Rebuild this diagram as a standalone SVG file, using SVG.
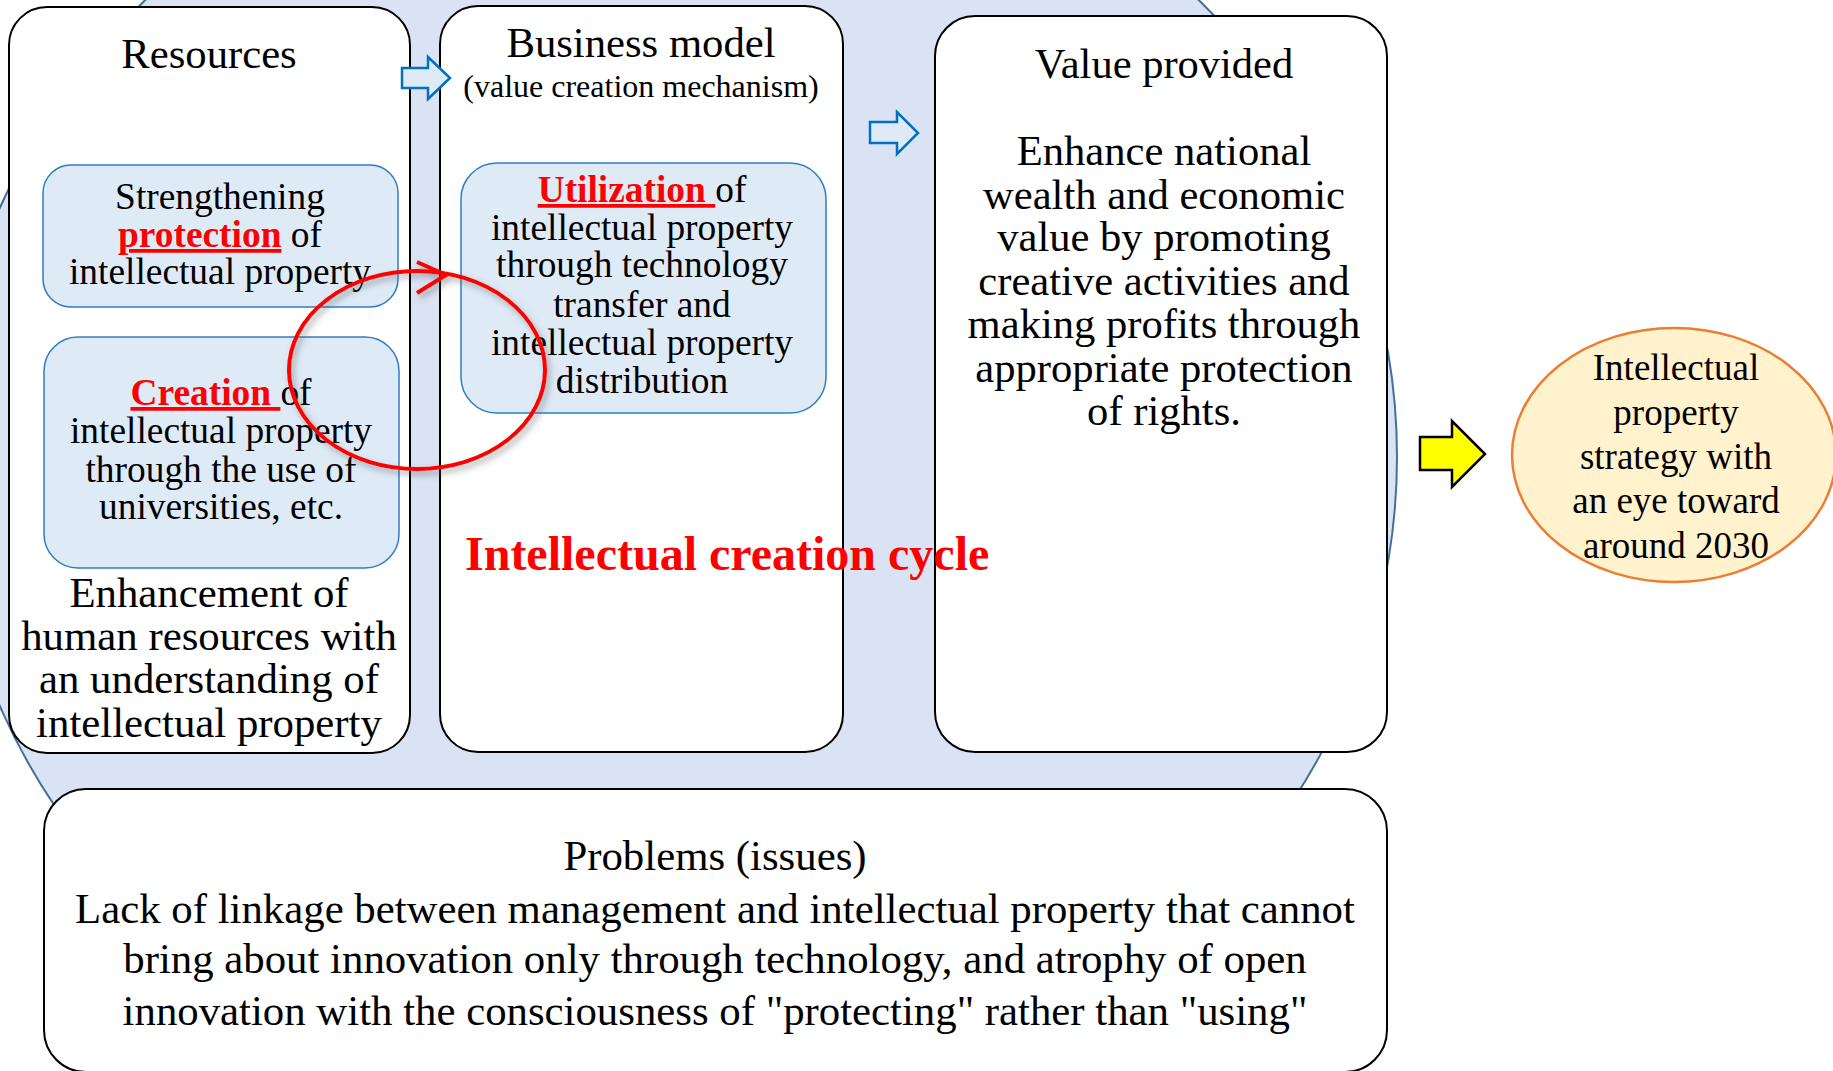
<svg xmlns="http://www.w3.org/2000/svg" width="1833" height="1071" viewBox="0 0 1833 1071">
<style>
.t{font-family:"Liberation Serif","Times New Roman",serif;fill:#000;text-anchor:middle}
.box{fill:#fff;stroke:#000;stroke-width:2}
.inner{fill:#deebf7;stroke:#2e7dc4;stroke-width:1.5}
.red{fill:#ff0000;font-weight:bold;text-decoration:underline}
.barrow{fill:#deebf7;stroke:#0070c0;stroke-width:2.5;stroke-linejoin:miter}
</style>
<defs>
<filter id="sh" x="-20%" y="-20%" width="140%" height="140%">
<feDropShadow dx="3" dy="4" stdDeviation="3" flood-color="#555" flood-opacity="0.5"/>
</filter>
</defs>
<rect width="1833" height="1071" fill="#fff"/>
<g id="cycle-bg">
<ellipse cx="672" cy="457" rx="725" ry="665" fill="#dae3f3" stroke="#41719c" stroke-width="2"/>
</g>
<g id="resources">
<rect class="box" x="9" y="7" width="401" height="746" rx="38"/>
<text class="t" x="209" y="68" font-size="42.7">Resources</text>
<text class="t" x="209" y="607" font-size="42.8">Enhancement of</text>
<text class="t" x="209" y="650" font-size="42.8">human resources with</text>
<text class="t" x="209" y="693" font-size="42.8">an understanding of</text>
<text class="t" x="209" y="737" font-size="42.8">intellectual property</text>
</g>
<g id="protection">
<rect class="inner" x="43" y="165" width="355" height="142" rx="28"/>
<text class="t" x="220" y="209" font-size="37.4">Strengthening</text>
<text class="t" x="220" y="247" font-size="37.4"><tspan class="red">protection</tspan> of</text>
<text class="t" x="220" y="284" font-size="37.4">intellectual property</text>
</g>
<g id="creation">
<rect class="inner" x="44" y="337" width="355" height="231" rx="34"/>
<text class="t" x="221" y="405" font-size="37.4"><tspan class="red">Creation </tspan>of</text>
<text class="t" x="221" y="443" font-size="37.4">intellectual property</text>
<text class="t" x="221" y="482" font-size="37.4">through the use of</text>
<text class="t" x="221" y="519" font-size="37.4">universities, etc.</text>
</g>
<g id="business-model">
<rect class="box" x="440" y="6" width="403" height="746" rx="38"/>
<text class="t" x="641" y="57" font-size="42.7">Business model</text>
<text class="t" x="641" y="97" font-size="32">(value creation mechanism)</text>
</g>
<g id="utilization">
<rect class="inner" x="461" y="163" width="365" height="250" rx="36"/>
<text class="t" x="642" y="202" font-size="37.4"><tspan class="red">Utilization </tspan>of</text>
<text class="t" x="642" y="240" font-size="37.4">intellectual property</text>
<text class="t" x="642" y="277" font-size="37.4">through technology</text>
<text class="t" x="642" y="317" font-size="37.4">transfer and</text>
<text class="t" x="642" y="355" font-size="37.4">intellectual property</text>
<text class="t" x="642" y="393" font-size="37.4">distribution</text>
</g>
<g id="value-provided">
<rect class="box" x="935" y="16" width="452" height="736" rx="40"/>
<text class="t" x="1164" y="78" font-size="42.5">Value provided</text>
<text class="t" x="1164" y="165" font-size="42.6">Enhance national</text>
<text class="t" x="1164" y="209" font-size="42.6">wealth and economic</text>
<text class="t" x="1164" y="251" font-size="42.6">value by promoting</text>
<text class="t" x="1164" y="295" font-size="42.6">creative activities and</text>
<text class="t" x="1164" y="338" font-size="42.6">making profits through</text>
<text class="t" x="1164" y="382" font-size="42.6">appropriate protection</text>
<text class="t" x="1164" y="425" font-size="42.6">of rights.</text>
</g>
<g id="problems">
<rect class="box" x="44" y="789" width="1343" height="283" rx="42"/>
<text class="t" x="715" y="870" font-size="42.8">Problems (issues)</text>
<text class="t" x="715" y="923" font-size="42.8">Lack of linkage between management and intellectual property that cannot</text>
<text class="t" x="715" y="973" font-size="42.8">bring about innovation only through technology, and atrophy of open</text>
<text class="t" x="715" y="1025" font-size="42.8">innovation with the consciousness of "protecting" rather than "using"</text>
</g>
<g id="strategy">
<ellipse cx="1674" cy="455" rx="162" ry="127" fill="#fff2cc" stroke="#ed7d31" stroke-width="2.5"/>
<text class="t" x="1676" y="380" font-size="37">Intellectual</text>
<text class="t" x="1676" y="425" font-size="37">property</text>
<text class="t" x="1676" y="469" font-size="37">strategy with</text>
<text class="t" x="1676" y="513" font-size="37">an eye toward</text>
<text class="t" x="1676" y="558" font-size="37">around 2030</text>
</g>
<g id="cycle-label">
<text x="465" y="570" font-family="Liberation Serif, Times New Roman, serif" font-size="48" font-weight="bold" fill="#ff0000">Intellectual creation cycle</text>
</g>
<g id="connectors">
<polygon class="barrow" points="402,68 428,68 428,57 450,78 428,99 428,88 402,88"/>
<polygon class="barrow" points="870,122 897,122 897,112 918,133 897,154 897,143 870,143"/>
<polygon points="1420,437 1452,437 1452,421 1485,454 1452,487 1452,470 1420,470" fill="#ffff00" stroke="#000" stroke-width="2.5"/>
<g filter="url(#sh)" fill="none" stroke="#ff0000" stroke-width="4">
<ellipse cx="417" cy="370" rx="128" ry="99"/>
<polyline points="417,262 446,275 417,293" stroke-linejoin="miter"/>
</g>
</g>
</svg>
